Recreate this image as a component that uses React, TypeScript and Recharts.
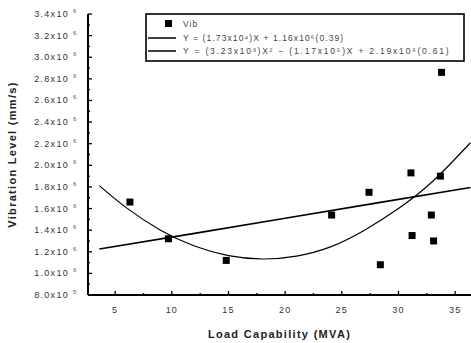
import React from 'react';
import { ComposedChart, Scatter, Line, XAxis, YAxis, ZAxis, Legend } from 'recharts';

const vibX = [6.3, 9.7, 14.8, 24.1, 27.4, 28.4, 31.1, 31.2, 32.9, 33.1, 33.8, 33.7];
const vibY = [1.66e6, 1.32e6, 1.12e6, 1.54e6, 1.75e6, 1.08e6, 1.93e6, 1.35e6, 1.54e6, 1.3e6, 2.86e6, 1.9e6];

const linX = [3.6, 12, 20, 28, 36.35];
const linY = [1.226e6, 1.37e6, 1.51e6, 1.65e6, 1.794e6];

const quadX = [3.6, 6, 9, 12, 15, 18, 21, 24, 27, 30, 33, 36.35];
const quadY = [1.812e6, 1.606e6, 1.4e6, 1.253e6, 1.164e6, 1.133e6, 1.16e6, 1.245e6, 1.4e6, 1.6e6, 1.85e6, 2.209e6];

const xTicks = [5, 7.5, 10, 12.5, 15, 17.5, 20, 22.5, 25, 27.5, 30, 32.5, 35];
const yTicks = [
  8e5, 9e5, 1e6, 1.1e6, 1.2e6, 1.3e6, 1.4e6, 1.5e6, 1.6e6, 1.7e6, 1.8e6, 1.9e6, 2e6, 2.1e6,
  2.2e6, 2.3e6, 2.4e6, 2.5e6, 2.6e6, 2.7e6, 2.8e6, 2.9e6, 3e6, 3.1e6, 3.2e6, 3.3e6, 3.4e6,
];

const legendLabels = ['Vib', 'Y = (1.73x10⁴)X + 1.16x10⁶(0.39)', 'Y = (3.23x10³)X² − (1.17x10⁵)X + 2.19x10⁶(0.61)'];

const vibData = vibX.map((x, i) => ({ x, y: vibY[i] }));
const linData = linX.map((x, i) => ({ x, y: linY[i] }));
const quadData = quadX.map((x, i) => ({ x, y: quadY[i] }));

const FONT = '"Liberation Sans", Arial, sans-serif';

const YTick = (props: any) => {
  const { x, y, payload } = props;
  const v = payload.value as number;
  const k = Math.round(v / 1e5);
  const major = k % 2 === 0;
  const exp = v < 1e6 ? 5 : 6;
  const mant = (v / Math.pow(10, exp)).toFixed(1);
  return (
    <g>
      <line x1={x} x2={x + (major ? 4 : 2)} y1={y} y2={y} stroke="#000" strokeWidth={1.3} />
      {major && (
        <text x={x - 19} y={y + 3} textAnchor="end" fontSize={9} fill="#333" fontFamily={FONT} letterSpacing={1.3}>
          {mant}x10
        </text>
      )}
      {major && (
        <text x={x - 15} y={y - 1} textAnchor="start" fontSize={6} fill="#555" fontFamily={FONT}>
          {exp}
        </text>
      )}
    </g>
  );
};

const XTick = (props: any) => {
  const { x, y, payload } = props;
  const v = payload.value as number;
  const major = v % 5 === 0;
  return (
    <g>
      <line x1={x} x2={x} y1={y} y2={y - (major ? 4 : 2)} stroke="#000" strokeWidth={1.3} />
      {major && (
        <text x={x} y={y + 18} textAnchor="middle" fontSize={9} fill="#333" fontFamily={FONT} letterSpacing={1.2}>
          {v}
        </text>
      )}
    </g>
  );
};

const LegendBox = () => (
  <svg width={320} height={50} style={{ display: 'block' }}>
    <rect x={1} y={1} width={318} height={47} fill="#fff" stroke="#000" strokeWidth={1.6} />
    <rect x={20} y={7} width={7} height={7} fill="#000" />
    <text x={38} y={14} fontSize={8.5} fill="#444" fontFamily={FONT} letterSpacing={1}>
      {legendLabels[0]}
    </text>
    <line x1={3} x2={31} y1={25} y2={25} stroke="#000" strokeWidth={1.5} />
    <text x={38} y={28} fontSize={8.5} fill="#444" fontFamily={FONT} letterSpacing={1.1}>
      {legendLabels[1]}
    </text>
    <line x1={3} x2={31} y1={38} y2={38} stroke="#000" strokeWidth={1.5} />
    <text x={38} y={41} fontSize={8.5} fill="#444" fontFamily={FONT} letterSpacing={1.8}>
      {legendLabels[2]}
    </text>
  </svg>
);

export default function App() {
  return (
    <div style={{ position: 'absolute', left: 0, top: 0, background: '#fff' }}>
      <ComposedChart width={471} height={343} margin={{ top: 14, right: 0, left: 0, bottom: 0 }}>
        <XAxis
          xAxisId={0}
          type="number"
          dataKey="x"
          domain={[2.6, 36.4]}
          ticks={xTicks}
          interval={0}
          allowDataOverflow
          height={48}
          tickSize={0}
          tickMargin={0}
          tickLine={false}
          tick={<XTick />}
          axisLine={{ stroke: '#000', strokeWidth: 2 }}
          label={{
            value: 'Load Capability (MVA)',
            position: 'insideBottom',
            offset: 5,
            fontSize: 11,
            fontWeight: 'bold',
            fill: '#222',
            fontFamily: FONT,
            letterSpacing: 1.3,
          }}
        />
        <XAxis
          xAxisId="top"
          orientation="top"
          type="number"
          domain={[2.6, 36.4]}
          height={0}
          tick={false}
          tickLine={false}
          axisLine={{ stroke: '#000', strokeWidth: 2 }}
        />
        <YAxis
          type="number"
          dataKey="y"
          domain={[8e5, 3.4e6]}
          ticks={yTicks}
          interval={0}
          allowDataOverflow
          width={88}
          tickSize={0}
          tickMargin={0}
          tickLine={false}
          tick={<YTick />}
          axisLine={{ stroke: '#000', strokeWidth: 2 }}
          label={{
            value: 'Vibration Level (mm/s)',
            angle: -90,
            position: 'insideLeft',
            offset: 12,
            fontSize: 11,
            fontWeight: 'bold',
            fill: '#222',
            fontFamily: FONT,
            letterSpacing: 1.3,
            style: { textAnchor: 'middle' },
          }}
        />
        <ZAxis range={[49, 49]} />
        <Legend
          layout="vertical"
          align="center"
          verticalAlign="middle"
          content={<LegendBox />}
          wrapperStyle={{ position: 'absolute', left: 145, top: 13, width: 320, height: 50 }}
        />
        <Line
          data={quadData}
          dataKey="y"
          type="natural"
          stroke="#000"
          strokeWidth={1.2}
          dot={false}
          activeDot={false}
          isAnimationActive={false}
        />
        <Line
          data={linData}
          dataKey="y"
          type="linear"
          stroke="#000"
          strokeWidth={1.6}
          dot={false}
          activeDot={false}
          isAnimationActive={false}
        />
        <Scatter data={vibData} dataKey="y" fill="#000" shape="square" isAnimationActive={false} />
      </ComposedChart>
    </div>
  );
}
